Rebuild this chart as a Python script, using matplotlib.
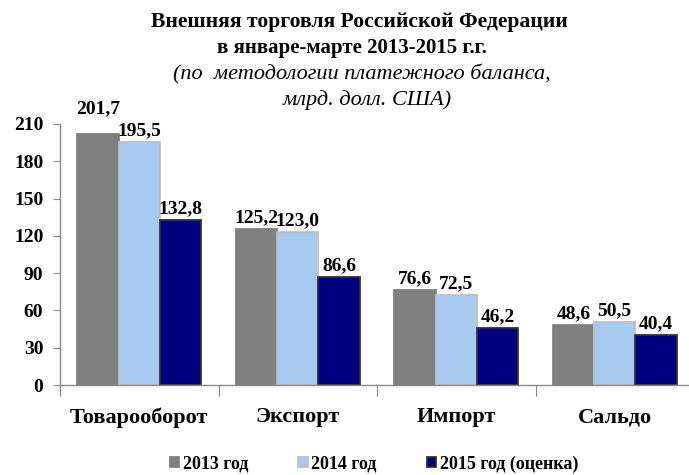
import matplotlib
matplotlib.use('Agg')
import matplotlib.pyplot as plt
import numpy as np

plt.rcParams['font.family'] = ['Liberation Serif', 'DejaVu Serif']

# === Data ===
categories = ['Товарооборот', 'Экспорт', 'Импорт', 'Сальдо']
series_names = ['2013 год', '2014 год', '2015 год (оценка)']
vals_2013 = [201.7, 125.2, 76.6, 48.6]
vals_2014 = [195.5, 123.0, 72.5, 50.5]
vals_2015 = [132.8, 86.6, 46.2, 40.4]
y_ticks = [0, 30, 60, 90, 120, 150, 180, 210]

title_lines = ['Внешняя торговля Российской Федерации',
               'в январе-марте 2013-2015 г.г.']
subtitle_lines = ['(по  методологии платежного баланса,',
                  'млрд. долл. США)']

# === Style ===
face_colors = ['#808080', '#a6caf0', '#000080']
edge_colors = ['#808080', '#c0c0c0', '#333333']
bar_w = 0.26

fig = plt.figure(figsize=(6.89, 4.75), dpi=100)
ax = fig.add_axes([60 / 689, 90 / 475, 634 / 689, 261 / 475])

x = np.arange(len(categories))
all_vals = [vals_2013, vals_2014, vals_2015]
bars = []
for i, vals in enumerate(all_vals):
    b = ax.bar(x + (i - 1) * bar_w, vals, width=bar_w, color=face_colors[i],
               edgecolor=edge_colors[i], linewidth=1.3, label=series_names[i],
               zorder=2)
    bars.append(b)

# value labels (the first one is lifted so it does not collide with its neighbour)
nudge = {(0, 0): 10}
for i, b in enumerate(bars):
    for j, rect in enumerate(b):
        v = all_vals[i][j]
        ax.annotate(f'{v:.1f}'.replace('.', ','),
                    (rect.get_x() + rect.get_width() / 2, v),
                    xytext=(0, 2 + nudge.get((i, j), 0)), textcoords='offset points',
                    ha='center', va='bottom', fontsize=14, fontweight='bold')

ax.set_xlim(-0.5, 3.5)
ax.set_ylim(0, 210)
ax.set_yticks(y_ticks)
ax.set_yticklabels([str(t) for t in y_ticks], fontsize=14, fontweight='bold')

ax.set_xticks(np.arange(-0.5, 4.0, 1.0))
ax.set_xticklabels([])
ax.set_xticks(x, minor=True)
ax.set_xticklabels(categories, minor=True, fontsize=16, fontweight='bold')
ax.tick_params(axis='x', which='major', length=8, color='#888888', direction='out')
ax.tick_params(axis='x', which='minor', length=0, pad=16)
ax.tick_params(axis='y', length=5, color='#888888', pad=7)

for side in ['top', 'right']:
    ax.spines[side].set_visible(False)
for side in ['left', 'bottom']:
    ax.spines[side].set_color('#888888')
    ax.spines[side].set_linewidth(1.0)

# === Titles ===
fig.text(359 / 689, 1 - 22 / 475, title_lines[0], ha='center', va='center',
         fontsize=15.6, fontweight='bold')
fig.text(352 / 689, 1 - 48 / 475, title_lines[1], ha='center', va='center',
         fontsize=15, fontweight='bold')
fig.text(362 / 689, 1 - 74 / 475, subtitle_lines[0], ha='center', va='center',
         fontsize=16, fontstyle='italic')
fig.text(367 / 689, 1 - 100 / 475, subtitle_lines[1], ha='center', va='center',
         fontsize=16, fontstyle='italic')

# === Legend ===
leg = fig.legend(handles=bars, labels=series_names, loc='center',
                 bbox_to_anchor=(374 / 689, 1 - 464 / 475), ncol=3, frameon=False,
                 handlelength=0.5, handleheight=0.5, handletextpad=0.2,
                 columnspacing=2.8, prop={'size': 13, 'weight': 'bold'})

fig.savefig('out.png', dpi=100)
